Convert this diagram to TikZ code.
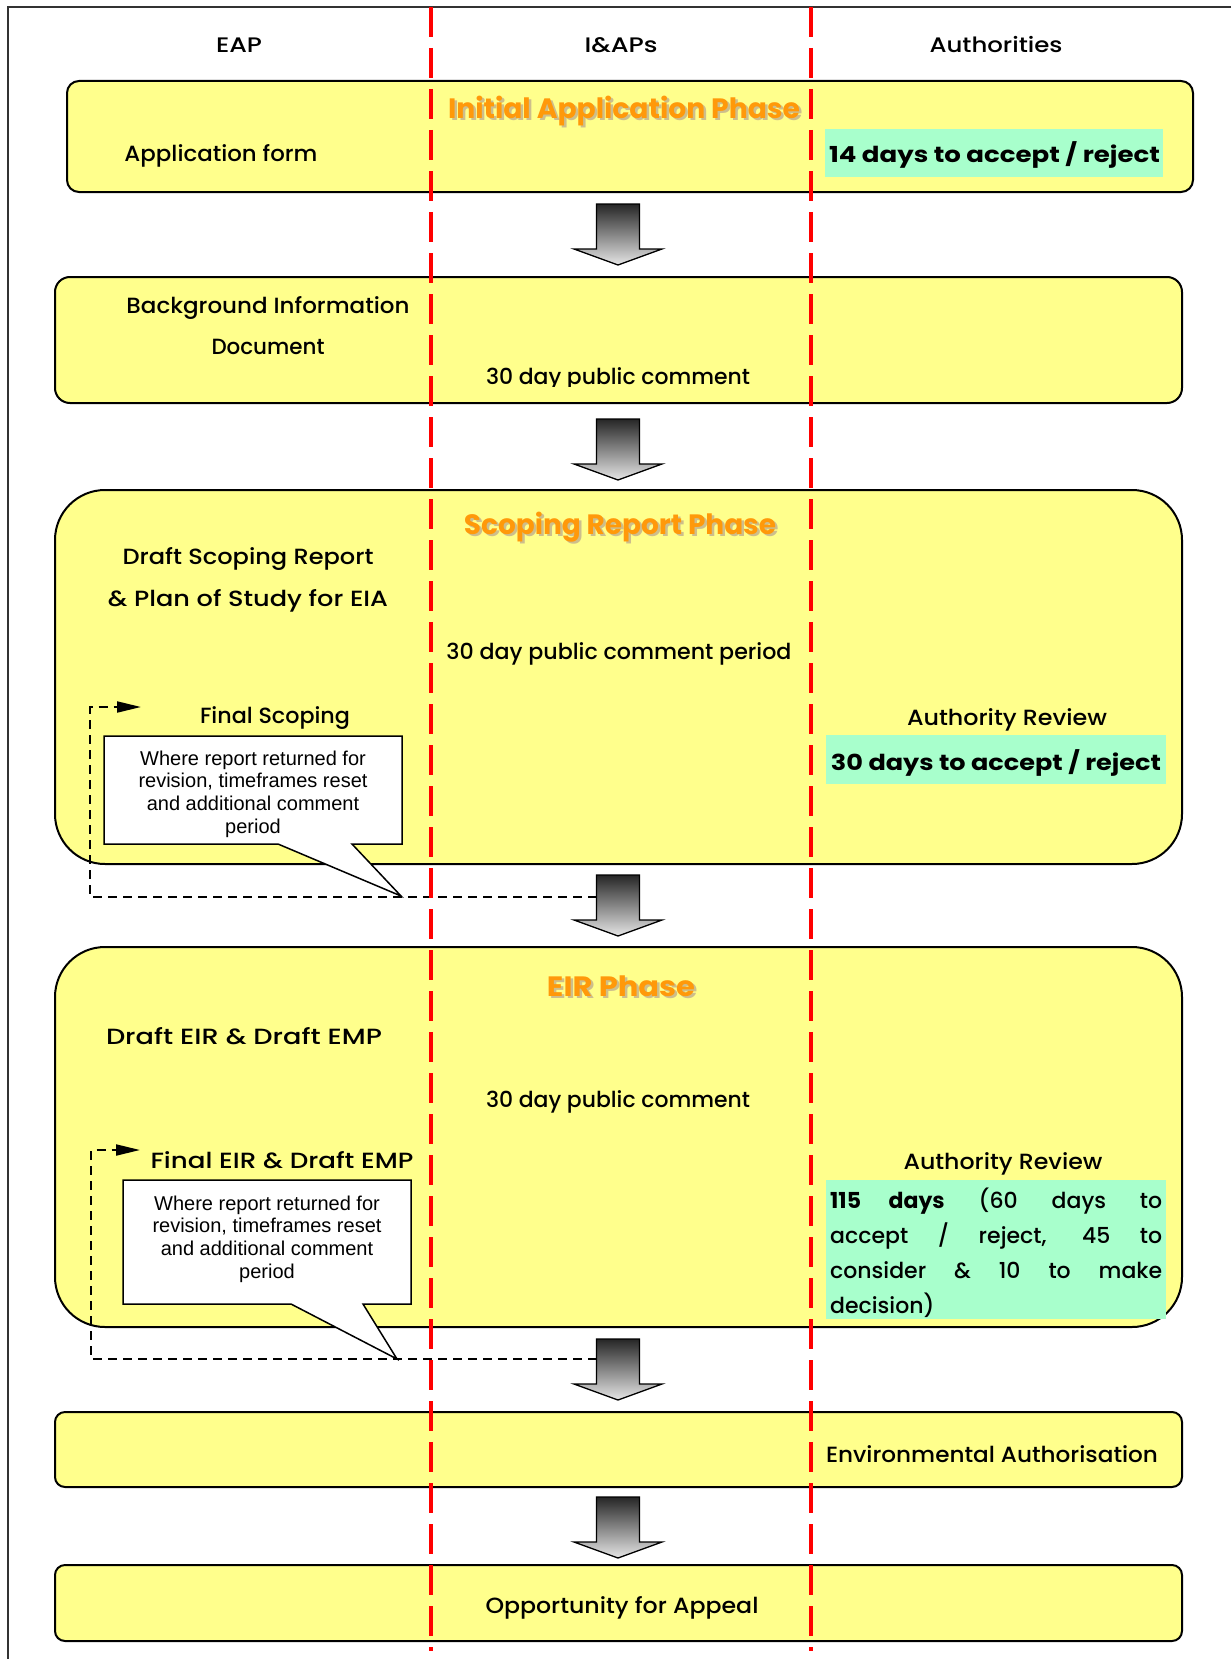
\documentclass[tikz,border=0pt]{standalone}
\usepackage{fontspec}
\setmainfont{Poppins}[UprightFont=* Medium, BoldFont=* Bold]
\newfontfamily\calloutfont{Liberation Sans}
\usetikzlibrary{arrows.meta}

\definecolor{phaseyellow}{RGB}{255,255,140}
\definecolor{timegreen}{RGB}{168,255,204}
\definecolor{titleorange}{RGB}{255,153,10}
\definecolor{titleshadow}{RGB}{205,190,140}
\definecolor{laneline}{RGB}{255,0,0}

% set a label to a given width (in pt), keeping its height
\newcommand\fitw[2]{\resizebox{#1pt}{\height}{#2}}

% big gradient arrow, #1 = top centre of the shaft
\newcommand\flowarrow[1]{%
  \shade[top color=black!85, bottom color=black!10, draw=black, line width=1.3pt, line join=miter]
    (#1) ++(-21.5,0) -- ++(43,0) -- ++(0,45) -- ++(22.5,0) -- ++(-44,16)
    -- ++(-44,-16) -- ++(22.5,0) -- cycle;}

\begin{document}
\begin{tikzpicture}[x=1pt,y=-1pt,
  phase/.style={draw=black, line width=2pt, fill=phaseyellow, inner sep=0pt, minimum width=1127pt},
  timebox/.style={fill=timegreen, inner sep=0pt},
  body/.style={font=\fontsize{22}{26}\selectfont, inner sep=0pt, anchor=base},
  head/.style={font=\fontsize{21}{24}\selectfont, inner sep=0pt, anchor=base},
  boldtime/.style={font=\fontsize{22}{26}\selectfont\bfseries, inner sep=0pt, anchor=base},
  phasetitle/.style={font=\fontsize{28}{34}\selectfont\bfseries, text=titleorange, inner sep=0pt, anchor=base},
  shadowtitle/.style={phasetitle, text=titleshadow},
  callout/.style={draw=black, line width=1.5pt, fill=white},
  callouttext/.style={font=\calloutfont\fontsize{20}{22.7}\selectfont, align=center, inner sep=0pt},
  loopback/.style={draw=black, line width=2pt, dash pattern=on 9pt off 6pt, -{Triangle[length=24pt,width=11pt]}},
  lane/.style={draw=laneline, line width=3.5pt, dash pattern=on 30pt off 11pt}
]
\useasboundingbox (0,0) rectangle (1231,1659);

% outer frame
\draw[line width=2pt, black!80] (1231,7) -- (8,7) -- (8,1659);

% column headings
\node[head] (hEAP) at (239,53) {\fitw{46}{EAP}};
\node[head] (hIAP) at (621,53) {\fitw{73}{I\&APs}};
\node[head] (hAuth) at (996,53) {\fitw{133}{Authorities}};

% ---------- Initial application phase ----------
\node[phase, minimum width=1126pt, minimum height=111pt, rounded corners=12pt] (p1) at (630,136.5) {};
\node[shadowtitle] at (626.5,121) {\fitw{352}{Initial Application Phase}};
\node[phasetitle] (t1) at (624,119) {\fitw{352}{Initial Application Phase}};
\node[body] (appform) at (221,162) {\fitw{193}{Application form}};
\node[timebox, minimum width=338pt, minimum height=48pt] (g1) at (994,153) {};
\node[boldtime] (g1t) at (994.5,163) {\fitw{331}{14 days to accept / reject}};

\flowarrow{618,204}

% ---------- Background information ----------
\node[phase, minimum height=126pt, rounded corners=15pt] (p2) at (618.5,340) {};
\node[body] (bid1) at (268,313) {\fitw{283}{Background Information}};
\node[body] (bid2) at (268,354) {\fitw{113}{Document}};
\begin{scope}
  \clip (440,300) rectangle (800,386);
  \node[body] (bidc) at (618,384) {\fitw{264}{30 day public comment}};
\end{scope}

\flowarrow{618,419}

% ---------- Scoping report phase ----------
\node[phase, minimum height=374pt, rounded corners=50pt] (p3) at (618.5,677) {};
\node[shadowtitle] at (622.5,536) {\fitw{312}{Scoping Report Phase}};
\node[phasetitle] (t3) at (620,534) {\fitw{312}{Scoping Report Phase}};
\node[body] (dsr1) at (248,564) {\fitw{251}{Draft Scoping Report}};
\node[body] (dsr2) at (248,606) {\fitw{280}{\& Plan of Study for EIA}};
\node[body] (dsrc) at (619,659) {\fitw{345}{30 day public comment period}};
\node[body] (fscop) at (275,723) {\fitw{150}{Final Scoping}};
\node[body] (ar1) at (1007,725) {\fitw{200}{Authority Review}};
\node[timebox, minimum width=340pt, minimum height=49pt] (g2) at (996,759.5) {};
\node[boldtime] (g2t) at (996,770) {\fitw{330}{30 days to accept / reject}};

\draw[callout] (104,736) -- (402,736) -- (402,844) -- (352,844) -- (401,896)
  -- (278,844) -- (104,844) -- cycle;
\node[callouttext] (c1) at (253,794) {Where report returned for\\revision, timeframes reset\\and additional comment\\period};

\flowarrow{618,875}
\coordinate (loop1start) at (596.5,897);
\coordinate (loop1end) at (141,707);
\draw[loopback] (loop1start) -- (90,897) -- (90,707) -- (loop1end);

% ---------- EIR phase ----------
\node[phase, minimum height=380pt, rounded corners=50pt] (p4) at (618.5,1137) {};
\node[shadowtitle] at (623.5,998) {\fitw{148}{EIR Phase}};
\node[phasetitle] (t4) at (621,996) {\fitw{148}{EIR Phase}};
\node[body] (deir) at (244,1044) {\fitw{276}{Draft EIR \& Draft EMP}};
\node[body] (eirc) at (618,1107) {\fitw{264}{30 day public comment}};
\node[body] (feir) at (282,1168) {\fitw{263}{Final EIR \& Draft EMP}};
\node[body] (ar2) at (1003,1169) {\fitw{199}{Authority Review}};
\node[timebox, minimum width=340pt, minimum height=139pt] (g3) at (996,1249.5) {};
\begin{scope}[every node/.style={font=\fontsize{22}{35}\selectfont, inner sep=0pt, anchor=base west}]
  \node (g3a) at (830,1208) {\makebox[332pt][s]{\textbf{115 days} (60 days to}};
  \node (g3b) at (830,1243) {\makebox[332pt][s]{accept / reject, 45 to}};
  \node (g3c) at (830,1278) {\makebox[332pt][s]{consider \& 10 to make}};
  \node (g3d) at (830,1313) {decision)};
\end{scope}

\draw[callout] (123,1180) -- (411,1180) -- (411,1304) -- (363,1304) -- (397,1359)
  -- (291,1304) -- (123,1304) -- cycle;
\node[callouttext] (c2) at (267,1239) {Where report returned for\\revision, timeframes reset\\and additional comment\\period};

\flowarrow{618,1339}
\coordinate (loop2start) at (596.5,1359);
\coordinate (loop2end) at (140,1150);
\draw[loopback] (loop2start) -- (91,1359) -- (91,1150) -- (loop2end);

% ---------- Environmental authorisation ----------
\node[phase, minimum height=75pt, rounded corners=10pt] (p5) at (618.5,1449.5) {};
\node[body] (envauth) at (992,1462) {\fitw{332}{Environmental Authorisation}};

\flowarrow{618,1497}

% ---------- Appeal ----------
\node[phase, minimum height=76pt, rounded corners=10pt] (p6) at (618.5,1603) {};
\node[body] (appeal) at (622,1613) {\fitw{273}{Opportunity for Appeal}};

% swim-lane separators
\draw[lane] (431,7) -- (431,1651);
\draw[lane] (811,7) -- (811,1651);
\end{tikzpicture}
\end{document}
